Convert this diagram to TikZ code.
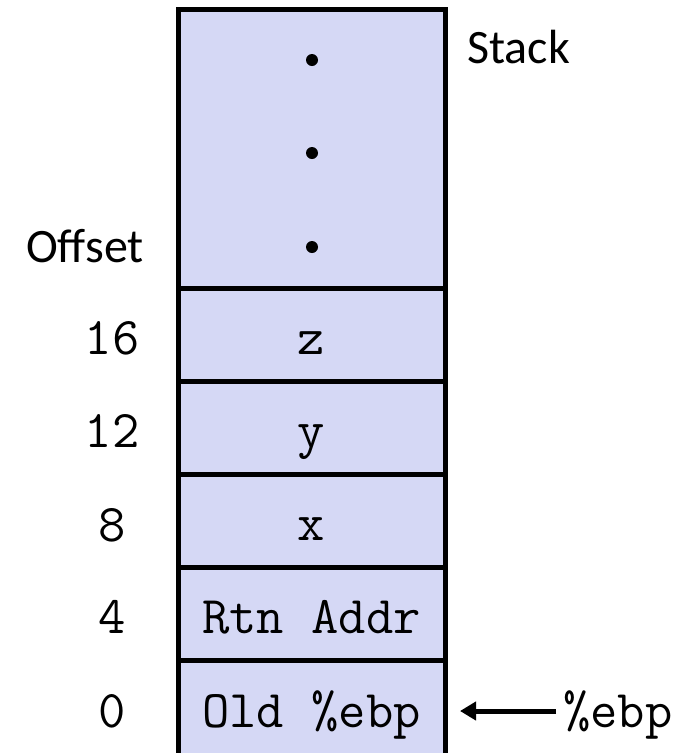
\documentclass[tikz,border=0pt]{standalone}
\usepackage{fontspec}
\setmainfont{Carlito}
\newfontfamily\labfont{Carlito}
\newcommand\monof{\ttfamily\fontsize{53}{54}\selectfont}
\usetikzlibrary{arrows.meta}
\definecolor{cellfill}{RGB}{213,216,245}
\tikzset{
  cell/.style={draw=black, line width=5pt, fill=cellfill, minimum width=267pt,
    minimum height=93pt, inner sep=0pt, outer sep=0pt, text height=40pt, text depth=0pt,
    font=\monof},
  offs/.style={anchor=base, inner sep=0pt, font=\monof},
  title/.style={inner sep=0pt, font=\labfont\fontsize{48}{50}\selectfont},
  ptr/.style={line width=5pt, -{Triangle[length=16pt, width=18pt]}},
  dot/.style={fill=black}
}
\begin{document}
\begin{tikzpicture}[x=1pt, y=-1pt]
\useasboundingbox (0,0) rectangle (690,753);
% stack cells
\node[cell, minimum height=278.5pt, text height=0pt] (top) at (311.5,148.75) {};
\node[cell] (z) at (311.5,334.5) {z};
\node[cell] (y) at (311.5,427.5) {y};
\node[cell] (x) at (311.5,520.5) {x};
\node[cell] (rtn) at (311.5,613.5) {Rtn Addr};
\node[cell, minimum height=97pt, text height=37pt] (old) at (311.5,708.5) {Old \%ebp};
% dots
\fill[dot] (312,60) circle (6pt);
\fill[dot] (312,153) circle (6pt);
\fill[dot] (312,247) circle (6pt);
% titles
\node[title, anchor=base west] (stack) at (467,63) {Stack};
\node[title, anchor=base west] (offset) at (26,262) {Offset};
% offsets
\node[offs] (o16) at (112,354) {16};
\node[offs] (o12) at (112,447) {12};
\node[offs] (o8) at (112,541) {8};
\node[offs] (o4) at (112,633) {4};
\node[offs] (o0) at (112,727) {0};
% ebp pointer
\node[anchor=base west, inner sep=0pt, text height=32pt, text depth=0pt,
  font=\monof] (ebp) at (563,727) {\%ebp};
\draw[ptr] ([xshift=-7pt]ebp.west) -- ([xshift=15pt]ebp.west -| old.east);
\end{tikzpicture}
\end{document}
